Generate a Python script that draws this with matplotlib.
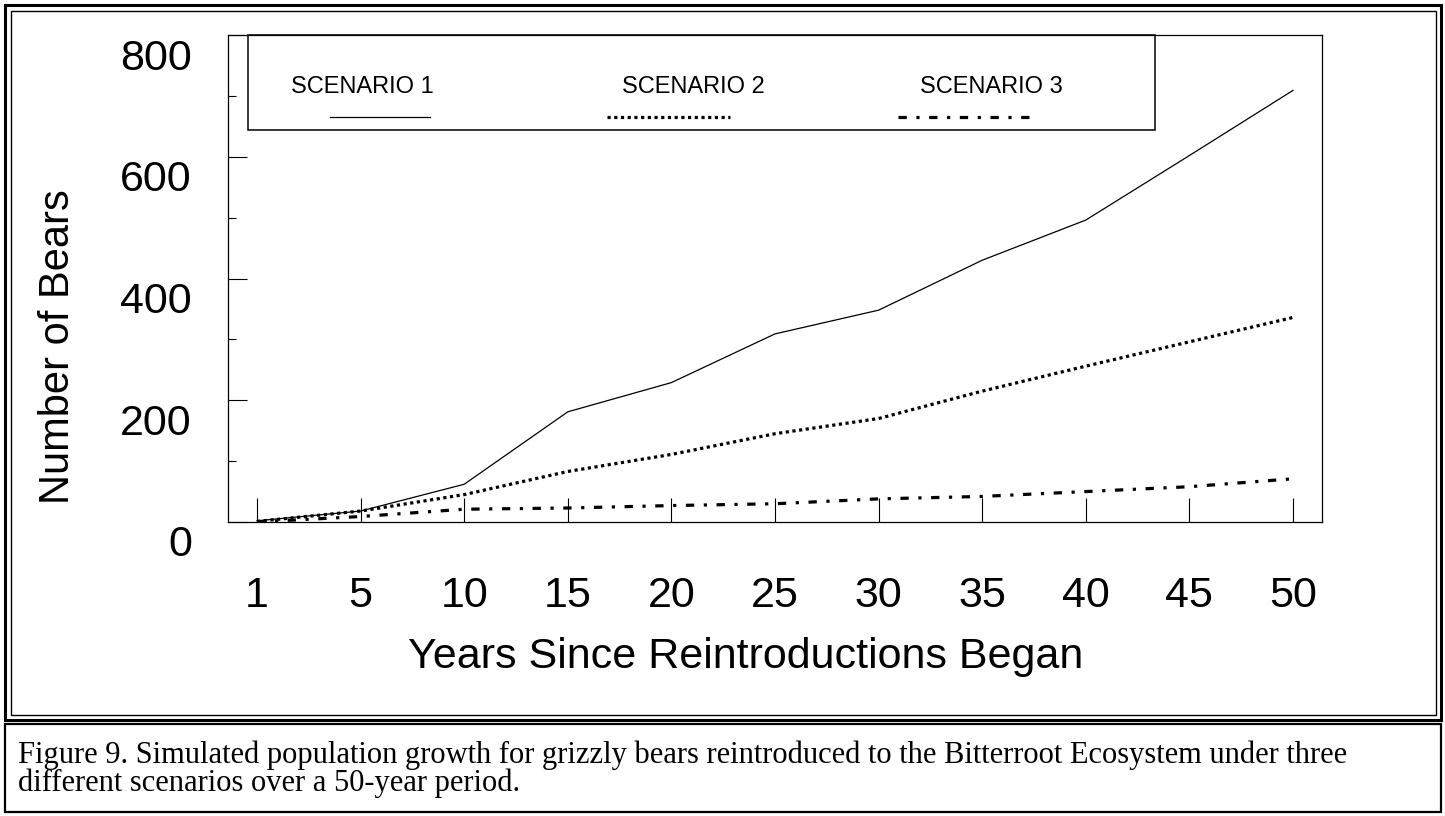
import numpy as np
import matplotlib.pyplot as plt
import matplotlib.transforms as mtransforms
from matplotlib.patches import Rectangle
from matplotlib.lines import Line2D

years = ['1', '5', '10', '15', '20', '25', '30', '35', '40', '45', '50']
scenario_1 = [2, 18, 62, 181, 229, 309, 348, 430, 496, 602, 709]
scenario_2 = [1, 18, 45, 83, 111, 145, 170, 215, 256, 296, 336]
scenario_3 = [0, 9, 21, 23, 27, 30, 38, 42, 50, 58, 71]
labels = ['SCENARIO 1', 'SCENARIO 2', 'SCENARIO 3']

W, H = 1445, 816
plt.rcParams['font.family'] = ['Liberation Sans', 'DejaVu Sans']

fig = plt.figure(figsize=(W / 100, H / 100), dpi=100)


def box(x0, y0, x1, y1, lw):
    # rectangle in figure pixels (y from top)
    fig.add_artist(Rectangle((x0 / W, 1 - y1 / H), (x1 - x0) / W, (y1 - y0) / H,
                             transform=fig.transFigure, fill=False,
                             edgecolor='black', linewidth=lw))


# double frame around the chart panel and the caption box
box(5, 5, 1441, 720, 2.2)
box(11, 11, 1436, 715, 1.0)
box(5, 724, 1441, 812, 1.6)

ax = fig.add_axes([228 / W, 1 - 522 / H, 1094 / W, 487 / H])
x = np.arange(len(years))

ax.plot(x, scenario_1, color='black', linewidth=0.9)
ax.plot(x, scenario_2, color='black', linewidth=2.3,
        linestyle=(0, (1, 1.1)), dash_capstyle='butt')
ax.plot(x, scenario_3, color='black', linewidth=2.3,
        linestyle=(0, (2.6, 3, 1, 3)), dash_capstyle='butt')

ax.set_xlim(-0.28, 10.28)
ax.set_ylim(0, 800)
ax.set_xticks(x)
ax.set_xticklabels(years, fontsize=31)
ax.set_yticks([0, 200, 400, 600, 800])
ax.set_yticks([100, 300, 500, 700], minor=True)
ax.tick_params(axis='y', labelsize=31)

ax.tick_params(axis='x', direction='in', length=17, width=0.8, pad=39, top=False)
ax.tick_params(axis='y', which='major', direction='in', length=14, width=0.8,
               pad=26, right=False)
ax.tick_params(axis='y', which='minor', direction='in', length=6, width=0.8, right=False)

shift = mtransforms.ScaledTranslation(0, -0.19, fig.dpi_scale_trans)
for lab in ax.get_yticklabels():
    lab.set_transform(lab.get_transform() + shift)

for s in ax.spines.values():
    s.set_linewidth(0.9)

ax.set_xlabel('Years Since Reintroductions Began', fontsize=31)
ax.xaxis.set_label_coords(0.4735, -0.236)
ax.set_ylabel('Number of Bears', fontsize=30)
ax.yaxis.set_label_coords(-0.137, 0.36)

# legend box with samples drawn under the names
ax.add_patch(Rectangle((0.018, 0.805), 0.829, 0.195, transform=ax.transAxes,
                       fill=False, edgecolor='black', linewidth=1.1, clip_on=False))
text_x = [0.1225, 0.425, 0.698]
line_x = [(0.093, 0.185), (0.346, 0.459), (0.612, 0.739)]
styles = [dict(linewidth=0.9),
          dict(linewidth=2.3, linestyle=(0, (1, 1.1)), dash_capstyle='butt'),
          dict(linewidth=2.3, linestyle=(0, (2.6, 3, 1, 3)), dash_capstyle='butt')]
for lab, tx, (l0, l1), st in zip(labels, text_x, line_x, styles):
    ax.text(tx, 0.894, lab, transform=ax.transAxes, ha='center', va='center',
            fontsize=17)
    ax.add_line(Line2D([l0, l1], [0.832, 0.832], transform=ax.transAxes,
                       color='black', **st))

caption = ('Figure 9. Simulated population growth for grizzly bears reintroduced to the '
           'Bitterroot Ecosystem under three\ndifferent scenarios over a 50-year period.')
fig.text(18 / W, 1 - 740 / H, caption, family='Liberation Serif', fontsize=22,
         ha='left', va='top', linespacing=0.95)

fig.savefig('out.png', dpi=100)
